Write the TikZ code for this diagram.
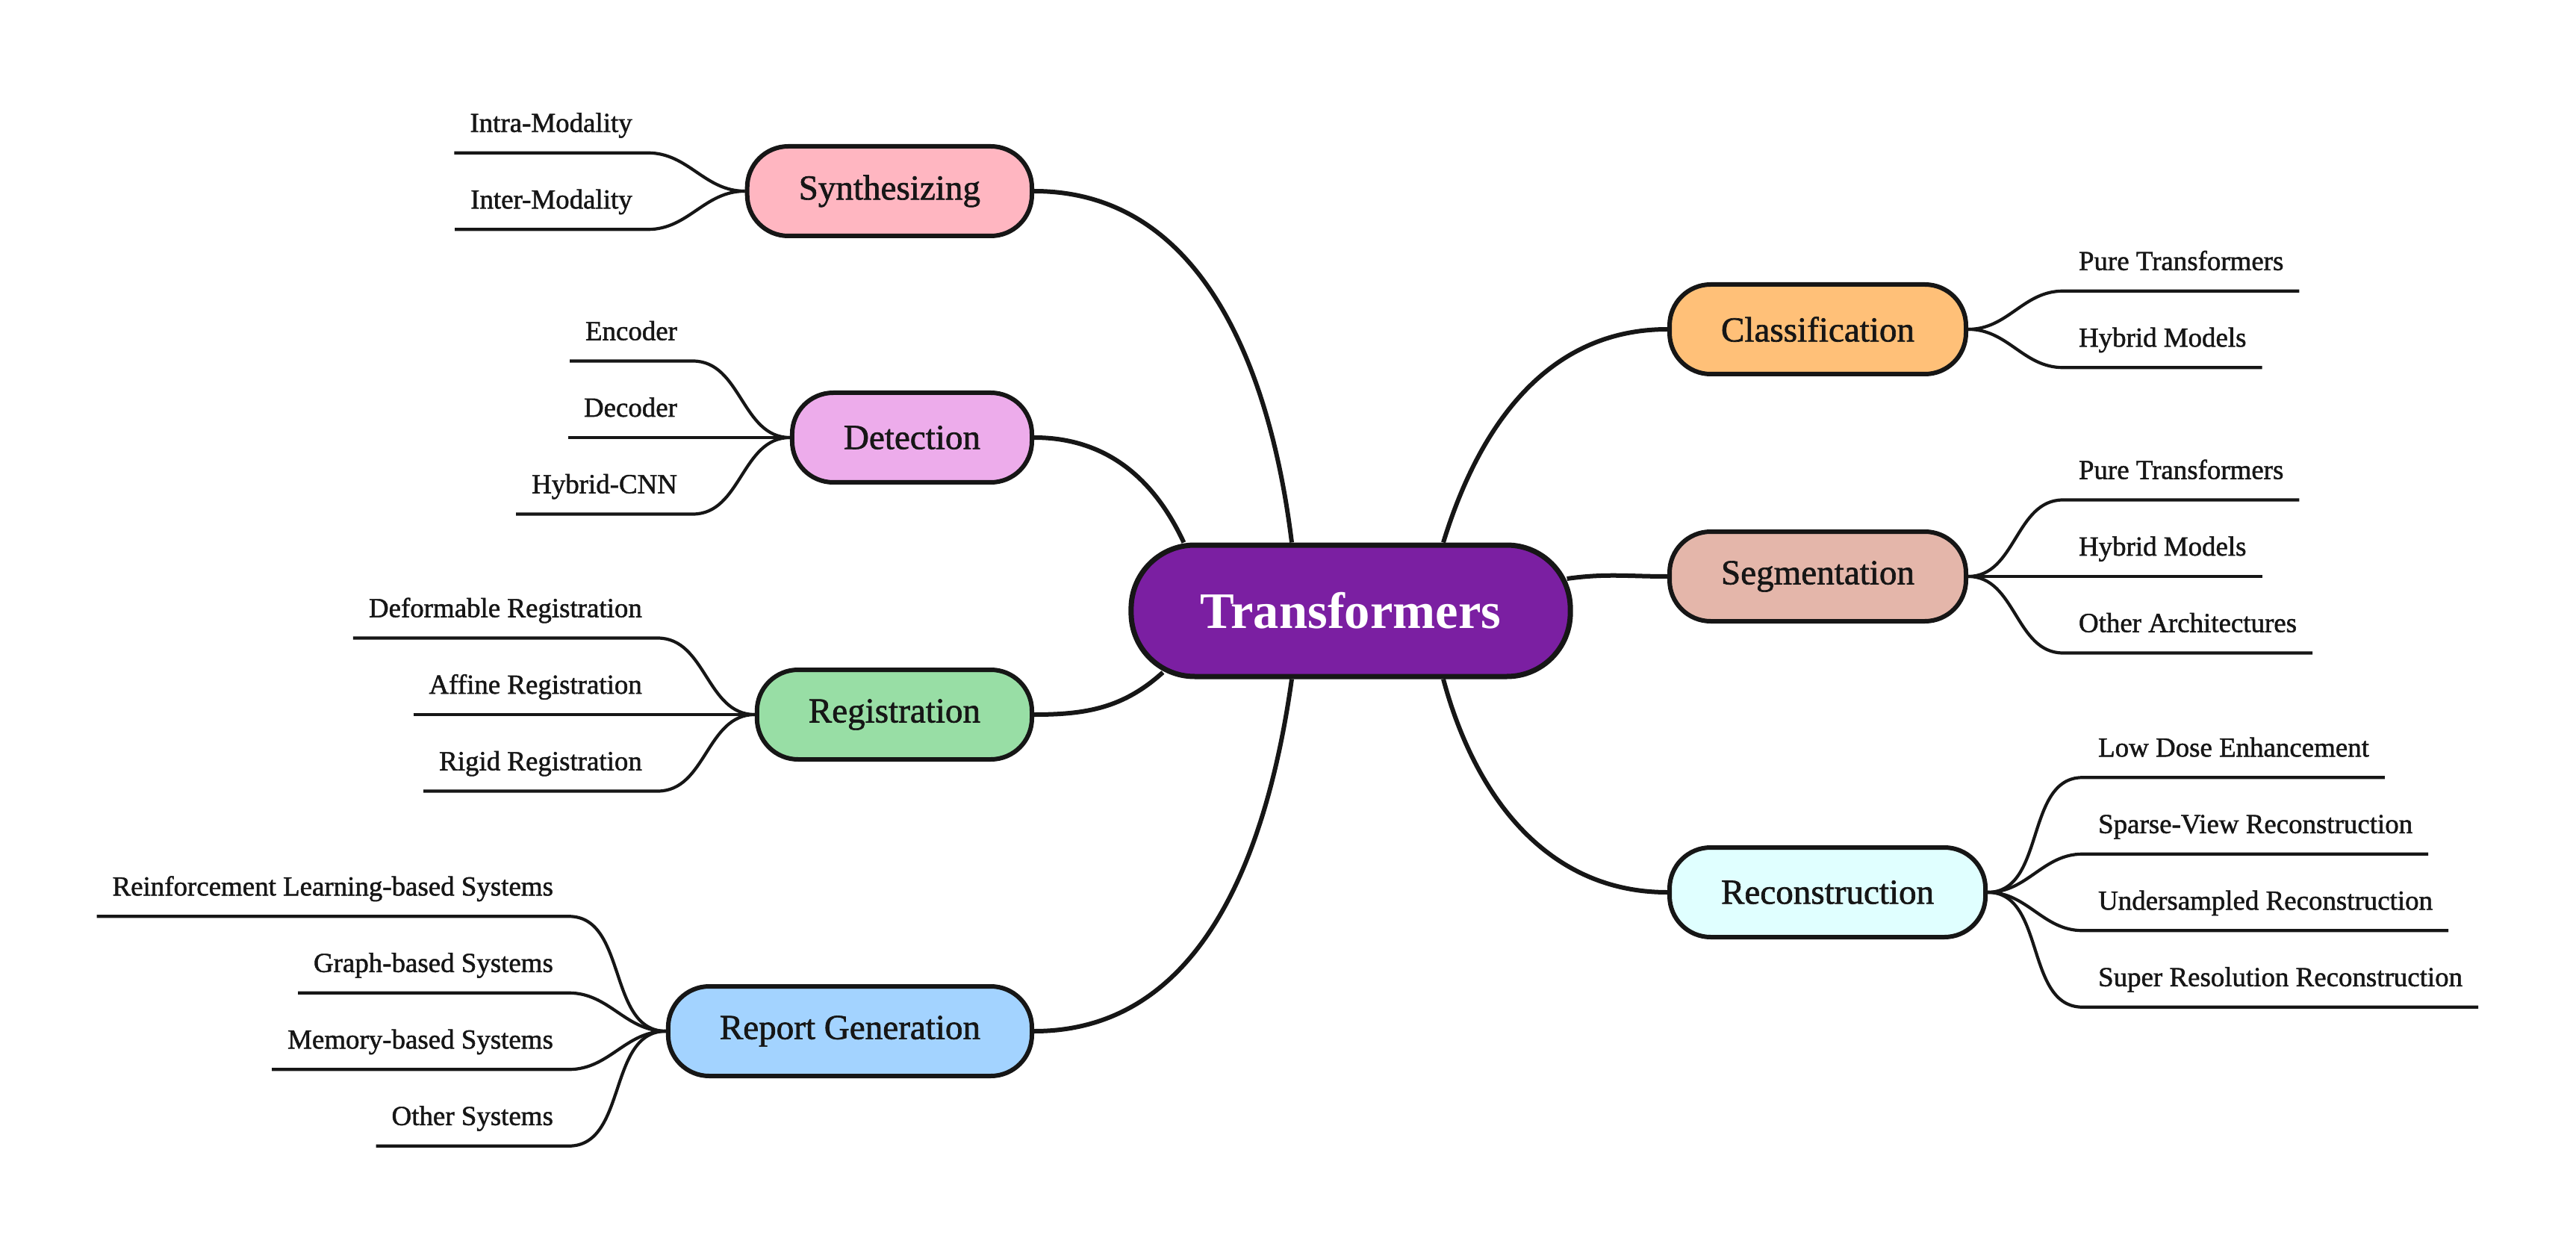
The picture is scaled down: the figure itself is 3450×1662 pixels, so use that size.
\documentclass[tikz,border=0pt]{standalone}
\usepackage{fontspec}
\setmainfont{Liberation Serif}
\newfontfamily\thickserif{Liberation Serif}[FakeBold=1.4]
\usetikzlibrary{calc}
\definecolor{ink}{HTML}{161616}
\definecolor{hubpurple}{HTML}{7B1FA2}
\definecolor{synpink}{HTML}{FFB6C1}
\definecolor{detviolet}{HTML}{EDACEB}
\definecolor{reggreen}{HTML}{98DEA5}
\definecolor{repblue}{HTML}{A3D3FF}
\definecolor{clsorange}{HTML}{FFC078}
\definecolor{segrose}{HTML}{E4B6AA}
\definecolor{reccyan}{HTML}{E0FFFF}

\tikzset{
  core/.style={draw=ink,fill=hubpurple,line width=0.7mm,rounded corners=8.5mm,
    minimum height=17.6mm,inner xsep=9.3mm,text=white,
    font=\fontsize{19.5}{23}\selectfont\bfseries},
  topic/.style={draw=ink,line width=0.6mm,rounded corners=5.5mm,
    minimum height=12mm,inner xsep=6.9mm,text=ink,
    font=\thickserif\fontsize{13.4}{16}\selectfont},
  leafL/.style={anchor=south east,inner xsep=2.1mm,inner ysep=2.8mm,
    text depth=0pt,outer sep=0pt,text=ink,font=\thickserif\fontsize{10.5}{12}\selectfont},
  leafR/.style={leafL,anchor=south west},
  limb/.style={ink,line width=0.6mm},
  twig/.style={ink,line width=0.42mm}
}

\begin{document}
\begin{tikzpicture}[x=0.1mm,y=0.1mm]
\useasboundingbox (0,0) rectangle (3450,-1662);

% centre
\node[core] (tr) at (1809,-818) {Transformers};

% branches on the left
\node[topic,fill=synpink,anchor=east] (syn) at (1385,-256) {Synthesizing};
\node[topic,fill=detviolet,anchor=east] (det) at (1385,-586) {Detection};
\node[topic,fill=reggreen,anchor=east] (reg) at (1385,-957) {Registration};
\node[topic,fill=repblue,anchor=east] (rep) at (1385,-1381) {Report Generation};

% branches on the right
\node[topic,fill=clsorange,anchor=west] (cls) at (2233,-441) {Classification};
\node[topic,fill=segrose,anchor=west] (seg) at (2233,-772) {Segmentation};
\node[topic,fill=reccyan,anchor=west] (rec) at (2233,-1195) {Reconstruction};

% centre to branches
\draw[limb] (syn.east) to[out=0,in=97] ($(tr.north)+(-79,0)$);
\draw[limb] (det.east) to[out=0,in=115] ($(tr.north west)+(74,0)$);
\draw[limb] (reg.east) to[out=0,in=222] ($(tr.south west)+(46,9)$);
\draw[limb] (rep.east) to[out=0,in=-98] ($(tr.south)+(-79,0)$);
\draw[limb] (cls.west) to[out=180,in=73] ($(tr.north)+(124,0)$);
\draw[limb] (seg.west) to[out=180,in=8] ($(tr.east)+(-8,43)$);
\draw[limb] (rec.west) to[out=180,in=-75] ($(tr.south)+(124,0)$);

% leaves, left side
\foreach \lab [count=\i] in {Intra-Modality,Inter-Modality} {
  \node[leafL] (syn\i) at ($(syn.west)+(-130,{(1.5-\i)*102.5})$) {\lab};
  \draw[twig] (syn\i.south west) -- (syn\i.south east) to[out=0,in=180] (syn.west);
}
\foreach \lab [count=\i] in {Encoder,Decoder,Hybrid-CNN} {
  \node[leafL] (det\i) at ($(det.west)+(-130,{(2-\i)*102.5})$) {\lab};
  \draw[twig] (det\i.south west) -- (det\i.south east) to[out=0,in=180] (det.west);
}
\foreach \lab [count=\i] in {Deformable Registration,Affine Registration,Rigid Registration} {
  \node[leafL] (reg\i) at ($(reg.west)+(-130,{(2-\i)*102.5})$) {\lab};
  \draw[twig] (reg\i.south west) -- (reg\i.south east) to[out=0,in=180] (reg.west);
}
\foreach \lab [count=\i] in {Reinforcement Learning-based Systems,Graph-based Systems,
    Memory-based Systems,Other Systems} {
  \node[leafL] (rep\i) at ($(rep.west)+(-130,{(2.5-\i)*102.5})$) {\lab};
  \draw[twig] (rep\i.south west) -- (rep\i.south east) to[out=0,in=180] (rep.west);
}

% leaves, right side
\foreach \lab [count=\i] in {Pure Transformers,Hybrid Models} {
  \node[leafR] (cls\i) at ($(cls.east)+(127,{(1.5-\i)*102.5})$) {\lab};
  \draw[twig] (cls\i.south east) -- (cls\i.south west) to[out=180,in=0] (cls.east);
}
\foreach \lab [count=\i] in {Pure Transformers,Hybrid Models,Other Architectures} {
  \node[leafR] (seg\i) at ($(seg.east)+(127,{(2-\i)*102.5})$) {\lab};
  \draw[twig] (seg\i.south east) -- (seg\i.south west) to[out=180,in=0] (seg.east);
}
\foreach \lab [count=\i] in {Low Dose Enhancement,Sparse-View Reconstruction,
    Undersampled Reconstruction,Super Resolution Reconstruction} {
  \node[leafR] (rec\i) at ($(rec.east)+(127,{(2.5-\i)*102.5})$) {\lab};
  \draw[twig] (rec\i.south east) -- (rec\i.south west) to[out=180,in=0] (rec.east);
}
\end{tikzpicture}
\end{document}
